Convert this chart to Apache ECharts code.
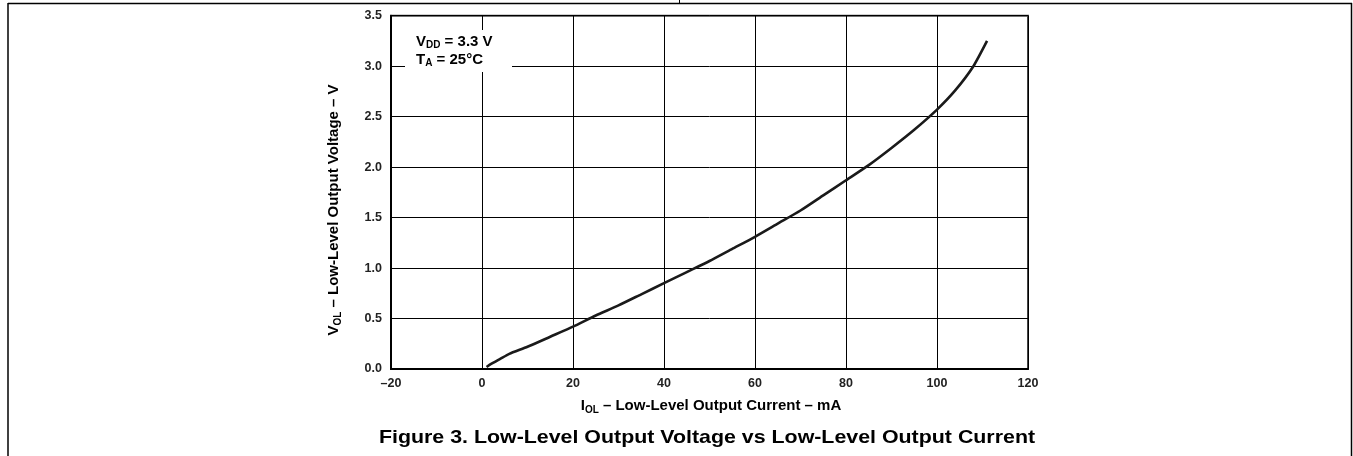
<!DOCTYPE html>
<html>
<head>
<meta charset="utf-8">
<script src="https://cdn.jsdelivr.net/npm/echarts@6/dist/echarts.min.js"></script>
<style>
html,body{margin:0;padding:0;background:#fff;}
#chart{width:1353px;height:456px;}
</style>
</head>
<body>
<div id="chart"></div>
<script>
// Data
const currentMA = [1, 2, 4, 6, 10, 15, 20, 25, 30, 35, 40, 45, 50, 55, 60, 65, 70, 75, 80, 85, 90, 95, 100, 104, 108, 111];
const voltageV  = [0.02, 0.05, 0.10, 0.15, 0.22, 0.32, 0.42, 0.53, 0.63, 0.74, 0.85, 0.96, 1.07, 1.19, 1.31, 1.44, 1.57, 1.72, 1.87, 2.02, 2.19, 2.37, 2.57, 2.76, 3.0, 3.25];
const xTicks = [-20, 0, 20, 40, 60, 80, 100, 120];
const yTicks = [0.0, 0.5, 1.0, 1.5, 2.0, 2.5, 3.0, 3.5];
const titleText = 'Figure 3. Low-Level Output Voltage vs Low-Level Output Current';

const FONT = '"Liberation Sans", Arial, Helvetica, sans-serif';
const chart = echarts.init(document.getElementById('chart'));

const L = 391, R = 1028, T = 15.7, B = 369;

const subRich = {
  m: {fontFamily: FONT, fontWeight: 'bold', fontSize: 15, lineHeight: 18, color: '#000'},
  s: {fontFamily: FONT, fontWeight: 'bold', fontSize: 10, lineHeight: 10, verticalAlign: 'bottom', color: '#000'}
};

const option = {
  animation: false,
  backgroundColor: '#fff',
  grid: {left: L, right: 1353 - R, top: T, bottom: 456 - B, show: true, borderColor: '#444', borderWidth: 2, backgroundColor: 'transparent'},
  xAxis: {
    type: 'value', min: xTicks[0], max: xTicks[xTicks.length - 1], interval: 20,
    axisLine: {show: true, onZero: false, lineStyle: {color: '#000', width: 2}},
    axisTick: {show: false},
    splitLine: {show: true, lineStyle: {color: '#000', width: 1}},
    axisLabel: {fontFamily: FONT, fontWeight: 'bold', fontSize: 12.5, color: '#222', margin: 8,
      formatter: v => String(v).replace('-', '\u2013')}
  },
  yAxis: {
    type: 'value', min: yTicks[0], max: yTicks[yTicks.length - 1], interval: 0.5,
    axisLine: {show: true, onZero: false, lineStyle: {color: '#000', width: 2}},
    axisTick: {show: false},
    splitLine: {show: true, lineStyle: {color: '#000', width: 1}},
    axisLabel: {fontFamily: FONT, fontWeight: 'bold', fontSize: 12.5, color: '#222', margin: 9,
      formatter: v => v.toFixed(1)}
  },
  series: [{
    type: 'line',
    data: currentMA.map((x, i) => [x, voltageV[i]]),
    showSymbol: false,
    smooth: 0.2,
    lineStyle: {color: '#1a1a1a', width: 2.6},
    z: 5
  }],
  graphic: [
    // outer frame
    {type: 'line', shape: {x1: 8, y1: 3.5, x2: 1352, y2: 3.5}, style: {stroke: '#000', lineWidth: 1.5}, z: 100},
    {type: 'line', shape: {x1: 8, y1: 3, x2: 8, y2: 456}, style: {stroke: '#000', lineWidth: 1.5}, z: 100},
    {type: 'line', shape: {x1: 1351.5, y1: 3, x2: 1351.5, y2: 456}, style: {stroke: '#000', lineWidth: 1.5}, z: 100},
    {type: 'line', shape: {x1: 679.5, y1: 0, x2: 679.5, y2: 3}, style: {stroke: '#000', lineWidth: 1}, z: 100},
    // legend box
    {type: 'rect', shape: {x: 405, y: 30, width: 107, height: 42}, style: {fill: '#fff'}, z: 50},
    {type: 'text', x: 416, y: 32.4, z: 51,
      style: {text: '{m|V}{s|DD}{m| = 3.3 V}\n{m|T}{s|A}{m| = 25\u00b0C}', rich: subRich, align: 'left', verticalAlign: 'top'}},
    // axis titles
    {type: 'text', x: 711, y: 406, z: 51,
      style: {text: '{m|I}{s|OL}{m| \u2013 Low-Level Output Current \u2013 mA}', rich: subRich, align: 'center', verticalAlign: 'middle'}},
    {type: 'text', x: 334, y: 210, rotation: Math.PI / 2, z: 51,
      style: {text: '{m|V}{s|OL}{m| \u2013 Low-Level Output Voltage \u2013 V}', rich: subRich, align: 'center', verticalAlign: 'middle'}},
    // figure title
    {type: 'text', x: 707, y: 438, scaleX: 1.155, z: 51,
      style: {text: titleText, fontFamily: FONT, fontWeight: 'bold', fontSize: 18.5, fill: '#000', align: 'center', verticalAlign: 'middle'}}
  ]
};
chart.setOption(option);
</script>
</body>
</html>
